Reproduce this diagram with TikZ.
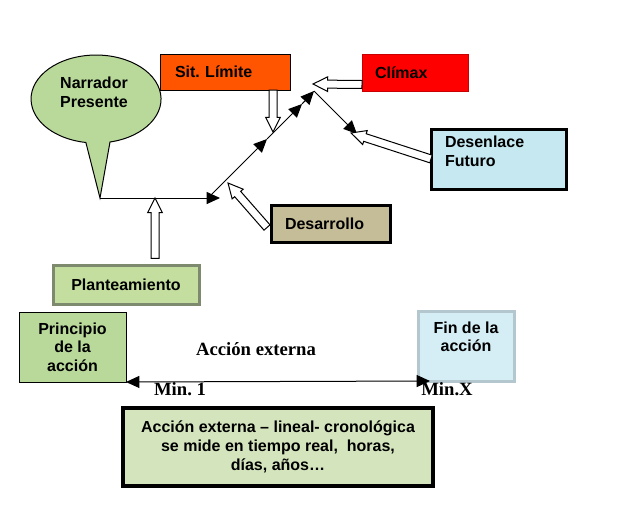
\documentclass[tikz,border=0pt]{standalone}
\usepackage{fontspec}
\setmainfont{Liberation Sans}
\newfontfamily\timesfont{Liberation Serif}
\usepackage{xcolor}
\definecolor{bubbleBody}{RGB}{185,217,155}
\definecolor{sitBody}{RGB}{255,85,0}
\definecolor{climaxBody}{RGB}{255,0,0}
\definecolor{climaxBorder}{RGB}{200,0,0}
\definecolor{desenBody}{RGB}{197,232,241}
\definecolor{desaBody}{RGB}{196,189,151}
\definecolor{plantBody}{RGB}{195,222,158}
\definecolor{plantBorder}{RGB}{125,138,110}
\definecolor{finBody}{RGB}{213,237,245}
\definecolor{finBorder}{RGB}{180,198,206}
\definecolor{notaBody}{RGB}{212,229,190}
\usepackage{tikz}
\usetikzlibrary{arrows.meta}
\usetikzlibrary{calc}
\tikzstyle{box} = [rectangle, font={\fontsize{12}{14}\selectfont\bfseries},
        inner ysep=0pt, outer sep=0pt]
\tikzstyle{frame} = [draw=black, line width=0.75pt]
\tikzstyle{heavy} = [draw=black, line width=2.25pt]
\tikzstyle{hollow} = [draw=black, fill=white, line width=0.75pt]
\tikzstyle{line} = [line width=0.75pt]
\tikzstyle{serif} = [font={\fontsize{14}{16}\selectfont\timesfont\bfseries}, inner sep=0pt]
\newcommand{\hollowarrow}[2]{%
  \draw[hollow] ($(#1)!3pt!90:(#2)$) -- ($(#2)!11pt!(#1)!3pt!-90:(#1)$)
    -- ($(#2)!11pt!(#1)!5.5pt!-90:(#1)$) -- (#2)
    -- ($(#2)!11pt!(#1)!5.5pt!90:(#1)$) -- ($(#2)!11pt!(#1)!3pt!90:(#1)$)
    -- ($(#1)!3pt!-90:(#2)$) -- cycle;}
\frenchspacing

\begin{document}
\begin{tikzpicture}[x=0.75pt, y=-0.75pt, >={Triangle[length=10pt,width=9pt]}]
    \useasboundingbox (0,0) rectangle (617,507);

    % narrador bubble
    \coordinate (tailR) at (110,142);
    \coordinate (tip) at (100,198);
    \draw[line, fill=bubbleBody] (tailR)
        arc[start angle=-77.6, end angle=261, x radius=48.75pt, y radius=33pt]
        -- (tip) -- cycle;
    \node[box, align=left, inner xsep=0pt] (narr) at (94,92) {Narrador\\Presente};

    % boxes
    \node[box, frame, fill=sitBody, minimum height=27pt, inner xsep=11.25pt,
        text width=75pt, align=left] (sit) at (225,72) {Sit. Límite};
    \node[box, draw=climaxBorder, line width=0.75pt, fill=climaxBody, minimum height=27.75pt,
        inner xsep=9.75pt, text width=60pt, align=left] (climax) at (415,72.5) {Clímax};
    \node[box, heavy, fill=desenBody, minimum width=101.25pt, minimum height=45pt]
        (desen) at (498.5,159) {};
    \node[box, anchor=north west, inner sep=0pt, align=left] (desentxt)
        at ([shift={(10.5pt,-5.5pt)}]desen.north west) {Desenlace\\Futuro};
    \node[box, heavy, fill=desaBody, minimum height=27.75pt, inner xsep=10.5pt,
        text width=68.25pt, align=left] (desa) at (330.5,223.5) {Desarrollo};
    \node[box, draw=plantBorder, line width=2.25pt, fill=plantBody, minimum width=109.5pt,
        minimum height=29.25pt] (plant) at (126,284.5) {Planteamiento};
    \node[box, frame, fill=bubbleBody, minimum width=80.25pt, minimum height=52.5pt,
        align=center] (princ) at (72.5,347) {Principio\\de la\\acción};
    \node[box, draw=finBorder, line width=2.25pt, fill=finBody, minimum width=72pt,
        minimum height=52.5pt] (fin) at (466,346) {};
    \node[box, anchor=north, inner sep=0pt, align=center] (fintxt)
        at ([yshift=-8pt]fin.north) {Fin de la\\acción};
    \node[box, draw=black, line width=3pt, fill=notaBody, minimum width=232.5pt,
        minimum height=58.5pt, align=center] (nota) at (278,447)
        {Acción externa -- lineal- cronológica\\se mide en tiempo real,\ \ horas,\\días, años…};

    % serif labels
    \node[serif] (ext) at (256,349) {Acción externa};
    \node[serif] (min1) at (180,389) {Min. 1};
    \node[serif] (minx) at (447,389) {Min.X};

    % plot line
    \coordinate (hend) at (220,198);
    \coordinate (dstart) at (211,195);
    \coordinate (m1) at (267,139);
    \coordinate (m2) at (302,104);
    \coordinate (peak) at (314,91);
    \coordinate (down) at (357,134);
    \draw[line, ->] (tip) -- (hend);
    \draw[line, ->] (dstart) -- (m1);
    \draw[line, ->] (m1) -- (m2);
    \draw[line, ->] (m2) -- (peak);
    \draw[line, ->] (peak) -- (down);

    % hollow arrows
    \coordinate (plantTip) at (155,198);
    \coordinate (sitTip) at (273,132);
    \coordinate (climaxTip) at (313,84);
    \coordinate (desenTip) at (351,133);
    \coordinate (desaTip) at (228,183);
    \hollowarrow{[xshift=21.75pt, yshift=5pt]plant.north}{plantTip}
    \hollowarrow{[xshift=-12.75pt]sit.south east}{sitTip}
    \hollowarrow{[yshift=-9pt]climax.west}{climaxTip}
    \hollowarrow{desen.west}{desenTip}
    \hollowarrow{[shift={(-3pt,-3pt)}]desa.west}{desaTip}

    % external action
    \draw[line, <->] (princ.south east) -- ([xshift=9pt]fin.south west);
\end{tikzpicture}
\end{document}
